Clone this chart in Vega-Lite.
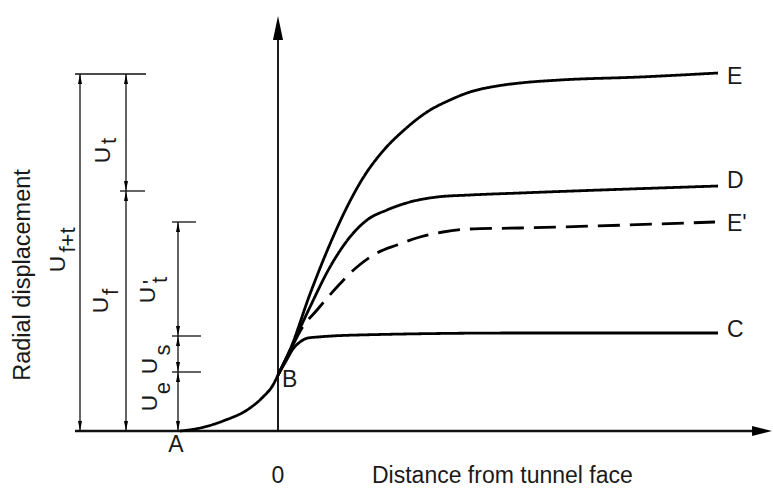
{
  "$schema": "https://vega.github.io/schema/vega-lite/v6.json",
  "width": 773,
  "height": 488,
  "autosize": {"type": "fit", "contains": "padding"},
  "padding": 0,
  "background": "white",
  "config": {"view": {"stroke": null}, "text": {"font": "Liberation Sans", "color": "#1a1a1a"}},
  "datasets": {
    "curves": [
      {"curve": "AB", "style": "solid", "x": -98, "y": 0},
      {"curve": "AB", "style": "solid", "x": -78, "y": 3},
      {"curve": "AB", "style": "solid", "x": -55, "y": 10},
      {"curve": "AB", "style": "solid", "x": -28, "y": 23},
      {"curve": "AB", "style": "solid", "x": -15, "y": 34},
      {"curve": "AB", "style": "solid", "x": -5, "y": 46},
      {"curve": "AB", "style": "solid", "x": 0, "y": 56},
      {"curve": "C", "style": "solid", "x": 0, "y": 56},
      {"curve": "C", "style": "solid", "x": 8, "y": 70},
      {"curve": "C", "style": "solid", "x": 15, "y": 82},
      {"curve": "C", "style": "solid", "x": 22, "y": 89},
      {"curve": "C", "style": "solid", "x": 30, "y": 93},
      {"curve": "C", "style": "solid", "x": 40, "y": 94},
      {"curve": "C", "style": "solid", "x": 80, "y": 96},
      {"curve": "C", "style": "solid", "x": 240, "y": 98},
      {"curve": "C", "style": "solid", "x": 440, "y": 98},
      {"curve": "D", "style": "solid", "x": 0, "y": 56},
      {"curve": "D", "style": "solid", "x": 12, "y": 81},
      {"curve": "D", "style": "solid", "x": 32, "y": 124},
      {"curve": "D", "style": "solid", "x": 52, "y": 164},
      {"curve": "D", "style": "solid", "x": 72, "y": 194},
      {"curve": "D", "style": "solid", "x": 89, "y": 211},
      {"curve": "D", "style": "solid", "x": 109, "y": 221},
      {"curve": "D", "style": "solid", "x": 132, "y": 229},
      {"curve": "D", "style": "solid", "x": 159, "y": 234},
      {"curve": "D", "style": "solid", "x": 192, "y": 236},
      {"curve": "D", "style": "solid", "x": 242, "y": 238},
      {"curve": "D", "style": "solid", "x": 440, "y": 245},
      {"curve": "E", "style": "solid", "x": 0, "y": 56},
      {"curve": "E", "style": "solid", "x": 12, "y": 81},
      {"curve": "E", "style": "solid", "x": 32, "y": 137},
      {"curve": "E", "style": "solid", "x": 52, "y": 187},
      {"curve": "E", "style": "solid", "x": 69, "y": 224},
      {"curve": "E", "style": "solid", "x": 85, "y": 253},
      {"curve": "E", "style": "solid", "x": 105, "y": 280},
      {"curve": "E", "style": "solid", "x": 125, "y": 300},
      {"curve": "E", "style": "solid", "x": 149, "y": 319},
      {"curve": "E", "style": "solid", "x": 172, "y": 331},
      {"curve": "E", "style": "solid", "x": 192, "y": 339},
      {"curve": "E", "style": "solid", "x": 219, "y": 345},
      {"curve": "E", "style": "solid", "x": 242, "y": 348},
      {"curve": "E", "style": "solid", "x": 282, "y": 351},
      {"curve": "E", "style": "solid", "x": 362, "y": 354},
      {"curve": "E", "style": "solid", "x": 440, "y": 358},
      {"curve": "E'", "style": "dashed", "x": 0, "y": 56},
      {"curve": "E'", "style": "dashed", "x": 12, "y": 80},
      {"curve": "E'", "style": "dashed", "x": 24, "y": 103},
      {"curve": "E'", "style": "dashed", "x": 39, "y": 121},
      {"curve": "E'", "style": "dashed", "x": 59, "y": 144},
      {"curve": "E'", "style": "dashed", "x": 79, "y": 164},
      {"curve": "E'", "style": "dashed", "x": 99, "y": 178},
      {"curve": "E'", "style": "dashed", "x": 119, "y": 186},
      {"curve": "E'", "style": "dashed", "x": 142, "y": 194},
      {"curve": "E'", "style": "dashed", "x": 165, "y": 199},
      {"curve": "E'", "style": "dashed", "x": 192, "y": 202},
      {"curve": "E'", "style": "dashed", "x": 242, "y": 203},
      {"curve": "E'", "style": "dashed", "x": 437, "y": 209}
    ],
    "segments": [
      {"kind": "baseline", "x": -203, "y": 0, "x2": 478, "y2": 0},
      {"kind": "vaxis", "x": 0, "y": 0, "x2": 0, "y2": 395},
      {"kind": "dim", "x": -203, "y": 357, "x2": -132, "y2": 357},
      {"kind": "dim", "x": -198, "y": 0, "x2": -198, "y2": 357},
      {"kind": "dim", "x": -152, "y": 0, "x2": -152, "y2": 357},
      {"kind": "dim", "x": -158, "y": 240, "x2": -133, "y2": 240},
      {"kind": "dim", "x": -100, "y": 0, "x2": -100, "y2": 209},
      {"kind": "dim", "x": -106, "y": 209, "x2": -82, "y2": 209},
      {"kind": "dim", "x": -106, "y": 95, "x2": -77, "y2": 95},
      {"kind": "dim", "x": -106, "y": 59, "x2": -77, "y2": 59}
    ],
    "arrows": [
      {"dir": "up", "x": -198, "y": 352},
      {"dir": "down", "x": -198, "y": 5},
      {"dir": "up", "x": -152, "y": 352},
      {"dir": "down", "x": -152, "y": 245},
      {"dir": "up", "x": -152, "y": 235},
      {"dir": "down", "x": -152, "y": 5},
      {"dir": "up", "x": -100, "y": 204},
      {"dir": "down", "x": -100, "y": 100},
      {"dir": "up", "x": -100, "y": 90},
      {"dir": "down", "x": -100, "y": 64},
      {"dir": "up", "x": -100, "y": 54},
      {"dir": "down", "x": -100, "y": 5}
    ],
    "bigarrows": [
      {"dir": "axis-up", "x": 0, "y": 403},
      {"dir": "axis-right", "x": 484, "y": 0}
    ],
    "vlabels": [
      {"text": "Radial displacement", "kind": "title", "x": -248, "y": 156},
      {"text": "U", "kind": "main", "x": -213, "y": 167},
      {"text": "f+t", "kind": "sub", "x": -203, "y": 191},
      {"text": "U", "kind": "main", "x": -168, "y": 276},
      {"text": "t", "kind": "sub", "x": -162, "y": 290},
      {"text": "U", "kind": "main", "x": -170, "y": 126},
      {"text": "f", "kind": "sub", "x": -160, "y": 139},
      {"text": "U", "kind": "main", "x": -123, "y": 136},
      {"text": "'", "kind": "sub", "x": -120, "y": 149},
      {"text": "t", "kind": "sub", "x": -111, "y": 151},
      {"text": "U", "kind": "main", "x": -121, "y": 65},
      {"text": "s", "kind": "sub", "x": -108, "y": 81},
      {"text": "U", "kind": "main", "x": -121, "y": 28},
      {"text": "e", "kind": "sub", "x": -108, "y": 43}
    ],
    "hlabels": [
      {"text": "B", "x": 4, "y": 44},
      {"text": "Distance from tunnel face", "x": 94, "y": -52},
      {"text": "E", "x": 449, "y": 347},
      {"text": "D", "x": 449, "y": 243},
      {"text": "E'", "x": 449, "y": 200},
      {"text": "C", "x": 449, "y": 94}
    ],
    "clabels": [
      {"text": "A", "x": -102, "y": -21},
      {"text": "0", "x": 0, "y": -52}
    ]
  },
  "layer": [
    {
      "data": {"name": "segments"},
      "mark": {"type": "rule", "color": "#111"},
      "encoding": {
        "x": {"field": "x", "type": "quantitative", "axis": null, "scale": {"domain": [-278, 495], "nice": false, "zero": false}},
        "y": {"field": "y", "type": "quantitative", "axis": null, "scale": {"domain": [-57, 431], "nice": false, "zero": false}},
        "x2": {"field": "x2"},
        "y2": {"field": "y2"},
        "strokeWidth": {"field": "kind", "type": "nominal", "legend": null, "scale": {"domain": ["baseline", "vaxis", "dim"], "range": [2.5, 1.3, 1.2]}}
      }
    },
    {
      "data": {"name": "curves"},
      "mark": {"type": "line", "interpolate": "monotone", "color": "#000", "strokeWidth": 2.8},
      "encoding": {
        "x": {"field": "x", "type": "quantitative", "axis": null, "scale": {"domain": [-278, 495], "nice": false, "zero": false}},
        "y": {"field": "y", "type": "quantitative", "axis": null, "scale": {"domain": [-57, 431], "nice": false, "zero": false}},
        "detail": {"field": "curve", "type": "nominal"},
        "strokeDash": {"field": "style", "type": "nominal", "legend": null, "scale": {"domain": ["solid", "dashed"], "range": [[1, 0], [22, 10]]}}
      }
    },
    {
      "data": {"name": "arrows"},
      "mark": {"type": "point", "filled": true, "color": "#000", "opacity": 1, "size": 100},
      "encoding": {
        "x": {"field": "x", "type": "quantitative"},
        "y": {"field": "y", "type": "quantitative"},
        "shape": {"field": "dir", "type": "nominal", "legend": null, "scale": {"domain": ["up", "down", "axis-up", "axis-right"], "range": ["M0,-1L0.4,1L-0.4,1Z", "M0,1L0.4,-1L-0.4,-1Z", "M0,-1L0.42,1L-0.42,1Z", "M0.83,0L-0.83,0.42L-0.83,-0.42Z"]}}
      }
    },
    {
      "data": {"name": "bigarrows"},
      "mark": {"type": "point", "filled": true, "color": "#000", "opacity": 1, "size": 576},
      "encoding": {
        "x": {"field": "x", "type": "quantitative"},
        "y": {"field": "y", "type": "quantitative"},
        "shape": {"field": "dir", "type": "nominal", "legend": null, "scale": {"domain": ["up", "down", "axis-up", "axis-right"], "range": ["M0,-1L0.4,1L-0.4,1Z", "M0,1L0.4,-1L-0.4,-1Z", "M0,-1L0.42,1L-0.42,1Z", "M0.83,0L-0.83,0.42L-0.83,-0.42Z"]}}
      }
    },
    {
      "data": {"name": "vlabels"},
      "mark": {"type": "text", "angle": 270, "align": "center", "baseline": "alphabetic"},
      "encoding": {
        "x": {"field": "x", "type": "quantitative"},
        "y": {"field": "y", "type": "quantitative"},
        "text": {"field": "text"},
        "size": {"field": "kind", "type": "nominal", "legend": null, "scale": {"domain": ["title", "main", "sub"], "range": [23.5, 22, 17]}}
      }
    },
    {
      "data": {"name": "hlabels"},
      "mark": {"type": "text", "align": "left", "baseline": "alphabetic", "fontSize": 23},
      "encoding": {
        "x": {"field": "x", "type": "quantitative"},
        "y": {"field": "y", "type": "quantitative"},
        "text": {"field": "text"}
      }
    },
    {
      "data": {"name": "clabels"},
      "mark": {"type": "text", "align": "center", "baseline": "alphabetic", "fontSize": 23},
      "encoding": {
        "x": {"field": "x", "type": "quantitative"},
        "y": {"field": "y", "type": "quantitative"},
        "text": {"field": "text"}
      }
    }
  ]
}
